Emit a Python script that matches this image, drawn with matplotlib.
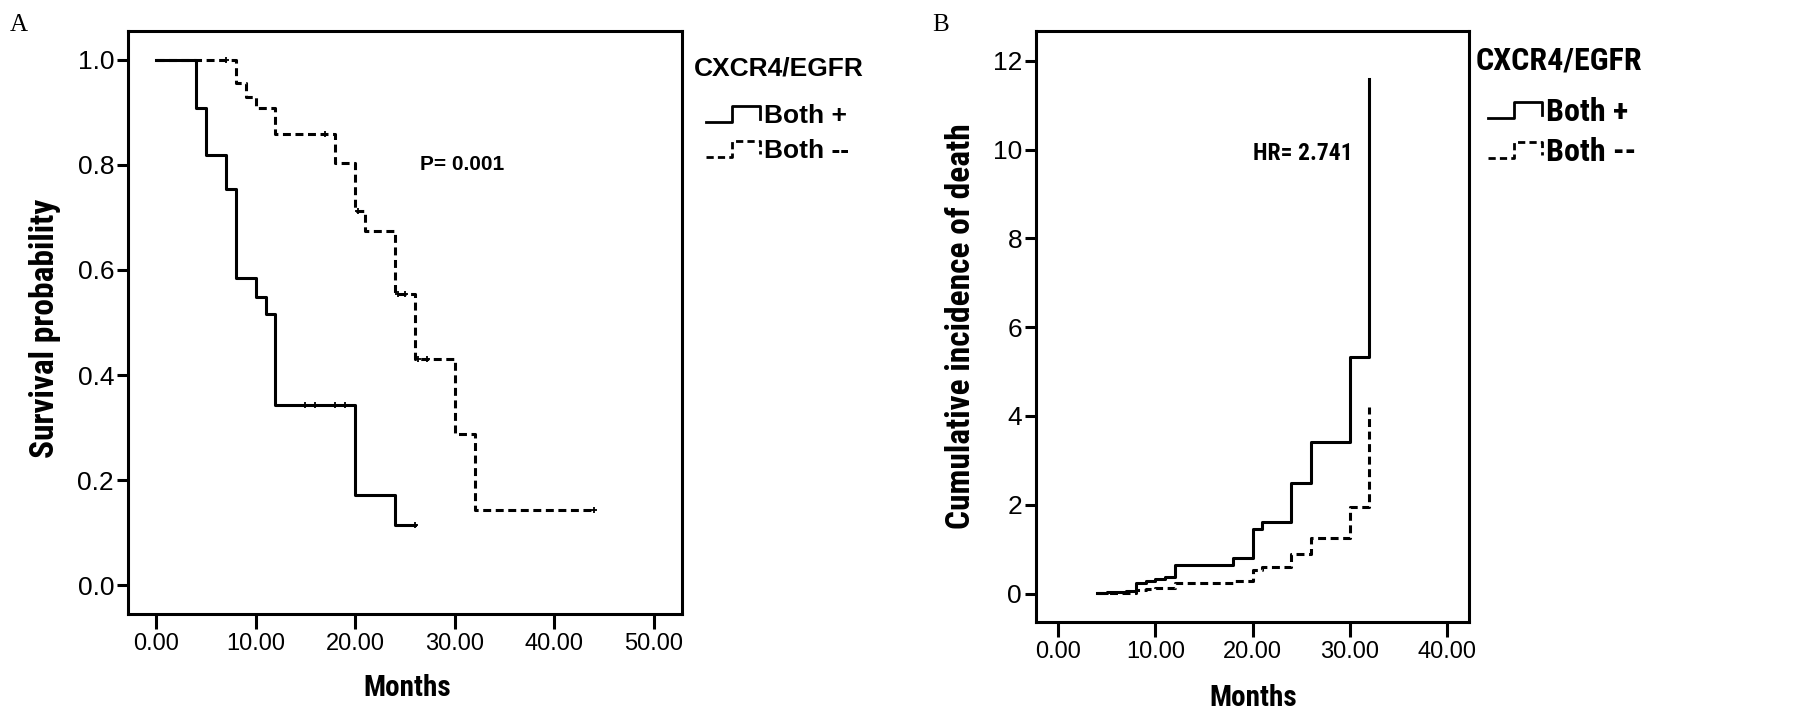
"""
CXCR4/EGFR 생존곡선 (A) + 누적사망률 (B)
출력: out.png
"""
import numpy as np
import matplotlib
matplotlib.use("Agg")
import matplotlib.pyplot as plt
from matplotlib.lines import Line2D
from matplotlib import font_manager

# ── 데이터 ─────────────────────────────────────────────────────────────────
# A: Kaplan-Meier
pos_t = [0, 4, 5, 7, 8, 10, 11, 12, 20, 24, 26]
pos_s = [1.0, 0.909, 0.818, 0.755, 0.584, 0.549, 0.516, 0.343, 0.172, 0.114, 0.114]
pos_cens_t = [15, 16, 18, 19, 26]
pos_cens_s = [0.343, 0.343, 0.343, 0.343, 0.114]

neg_t = [0, 8, 9, 10, 12, 18, 20, 21, 24, 26, 30, 32, 44]
neg_s = [1.0, 0.956, 0.930, 0.908, 0.858, 0.803, 0.712, 0.674, 0.555, 0.430, 0.288, 0.143, 0.143]
neg_cens_t = [7, 17, 20.3, 24.3, 25, 26.3, 27.2, 44]
neg_cens_s = [1.0, 0.858, 0.712, 0.555, 0.555, 0.430, 0.430, 0.143]

# B: cumulative incidence
times_b = [4, 5, 7, 8, 9, 10, 11, 12, 18, 20, 21, 24, 26, 30, 32]
pos_h = [0.02, 0.03, 0.06, 0.23, 0.28, 0.33, 0.37, 0.65, 0.80, 1.45, 1.62, 2.48, 3.42, 5.32, 11.6]
neg_h = [0.01, 0.01, 0.02, 0.08, 0.10, 0.12, 0.13, 0.24, 0.29, 0.53, 0.59, 0.90, 1.25, 1.94, 4.2]

xticks_a = [0, 10, 20, 30, 40, 50]
yticks_a = [0.0, 0.2, 0.4, 0.6, 0.8, 1.0]
xticks_b = [0, 10, 20, 30, 40]
yticks_b = [0, 2, 4, 6, 8, 10, 12]

# ── 폰트 ───────────────────────────────────────────────────────────────────
names = {f.name for f in font_manager.fontManager.ttflist}
NARROW = "DejaVu Sans"
for cand in ["Arial Narrow", "Liberation Sans Narrow", "Roboto Condensed",
             "Asap Condensed", "PT Sans Narrow", "Barlow Semi Condensed"]:
    if cand in names:
        NARROW = cand
        break
SANS = "Liberation Sans" if "Liberation Sans" in names else "DejaVu Sans"
SERIF = "Liberation Serif" if "Liberation Serif" in names else "DejaVu Serif"

LW = 2.2
DASH = (0, (2.6, 1.5))
W, H = 1795, 725

fig = plt.figure(figsize=(W / 100, H / 100), dpi=100, facecolor="white")


def px(x, y):
    return x / W, 1 - y / H


def style(ax, xt, yt, xfmt, yfmt):
    for sp in ax.spines.values():
        sp.set_linewidth(LW)
    ax.set_xticks(xt)
    ax.set_yticks(yt)
    ax.set_xticklabels([xfmt.format(v) for v in xt], family=SANS, fontsize=17)
    ax.set_yticklabels([yfmt.format(v) for v in yt], family=SANS, fontsize=19)
    ax.tick_params(axis="y", width=LW, length=8, pad=2)
    ax.tick_params(axis="x", width=LW, length=11, pad=3)


def label(x, y, s, rot=0):
    fig.text(*px(x, y), s, family=NARROW, fontweight="bold", fontsize=24 if rot else 21,
             rotation=rot, ha="center", va="center")


# ════════════════════════════════════════════════════════════════════════════
# A
# ════════════════════════════════════════════════════════════════════════════
axA = fig.add_axes([128 / W, 1 - 614 / H, (682 - 128) / W, (614 - 31) / H])
axA.plot(pos_t, pos_s, drawstyle="steps-post", color="black", lw=LW)
axA.plot(neg_t, neg_s, drawstyle="steps-post", color="black", lw=LW, linestyle=DASH)
axA.plot(pos_cens_t, pos_cens_s, "+", color="black", ms=5, mew=1.3)
axA.plot(neg_cens_t, neg_cens_s, "+", color="black", ms=5, mew=1.3)
axA.set_xlim(-2.8, 52.8)
axA.set_ylim(-0.055, 1.055)
style(axA, xticks_a, yticks_a, "{:.2f}", "{:.1f}")
axA.text(26.5, 0.80, "P= 0.001", family=SANS, fontweight="bold",
         fontsize=15, va="center", ha="left")
label(407, 688, "Months")
label(45, 328, "Survival probability", rot=90)

# ════════════════════════════════════════════════════════════════════════════
# B
# ════════════════════════════════════════════════════════════════════════════
axB = fig.add_axes([1036 / W, 1 - 622 / H, (1469 - 1036) / W, (622 - 31) / H])
axB.plot(times_b, pos_h, drawstyle="steps-post", color="black", lw=LW)
axB.plot(times_b, neg_h, drawstyle="steps-post", color="black", lw=LW, linestyle=DASH)
axB.set_xlim(-2.3, 42.3)
axB.set_ylim(-0.64, 12.67)
style(axB, xticks_b, yticks_b, "{:.2f}", "{:d}")
axB.text(20.0, 9.9, "HR= 2.741", family=NARROW, fontweight="bold",
         fontsize=17, va="center", ha="left")
label(1253, 698, "Months")
label(961, 326, "Cumulative incidence of death", rot=90)

# ── 패널 글자 ───────────────────────────────────────────────────────────────
fig.text(*px(10, 25), "A", family=SERIF, fontsize=18, va="center", ha="left")
fig.text(*px(932, 25), "B", family=SERIF, fontsize=18, va="center", ha="left")


# ── 범례 (계단 아이콘) ──────────────────────────────────────────────────────
def legend(x0, y_title, y1, y2, fam, size):
    fig.text(*px(x0 - 12, y_title), "CXCR4/EGFR", family=fam, fontweight="bold",
             fontsize=size, va="center", ha="left")
    for y, ls, lab in [(y1, "-", "Both +"), (y2, DASH, "Both --")]:
        xs = np.array([x0, x0 + 26, x0 + 26, x0 + 54, x0 + 54])
        ys = np.array([y + 6, y + 6, y - 10, y - 10, y + 3])
        fig.add_artist(Line2D(xs / W, 1 - ys / H, color="black", lw=2.0, linestyle=ls))
        fig.text(*px(x0 + 58, y), lab, family=fam, fontweight="bold",
                 fontsize=size, va="center", ha="left")


legend(706, 68, 116, 151, SANS, 19)
legend(1488, 60, 112, 152, NARROW, 23)

fig.savefig("out.png", dpi=100, facecolor="white")
